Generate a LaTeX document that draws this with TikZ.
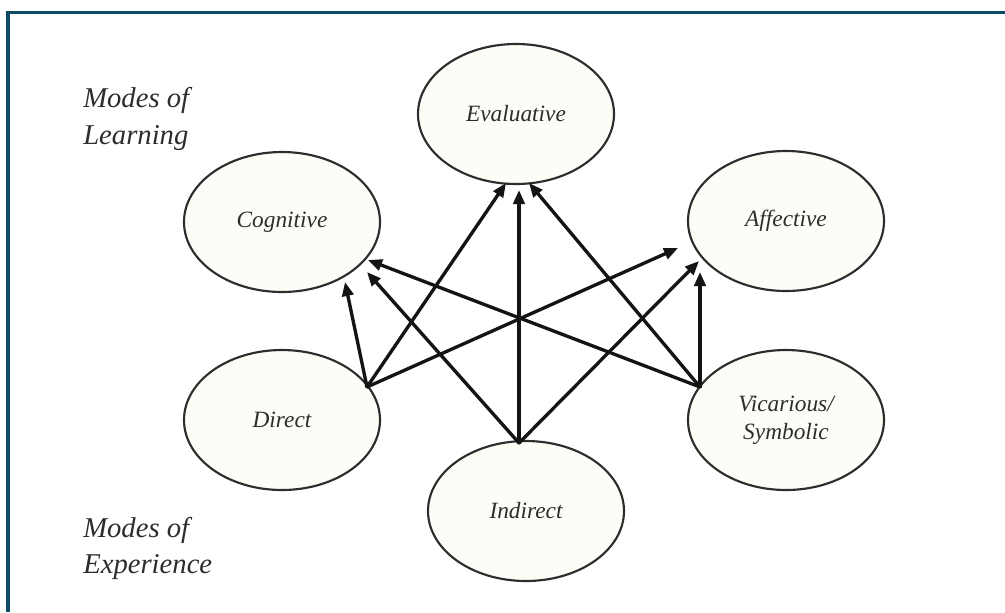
\documentclass[tikz,border=0pt]{standalone}
\usepackage{fontspec}
\setmainfont{Liberation Serif}
\usetikzlibrary{shapes.geometric,arrows.meta}
\definecolor{framecol}{RGB}{11,74,98}
\definecolor{ellfill}{RGB}{253,253,247}
\definecolor{txtcol}{RGB}{45,45,45}
\definecolor{arrcol}{RGB}{20,20,20}
\tikzset{
  mode/.style={ellipse, draw=txtcol, line width=1.6pt, fill=ellfill,
    minimum width=147pt, minimum height=105pt, inner sep=0pt,
    font=\fontsize{17.5}{21}\selectfont\itshape, text=txtcol, align=center},
  lbl/.style={anchor=base west, inner sep=0pt,
    font=\fontsize{21.5}{27}\selectfont\itshape, text=txtcol},
  link/.style={draw=arrcol, line width=2.5pt,
    -{Triangle[length=10.5pt,width=8.5pt]}, shorten <=-0.5pt},
}
\begin{document}
\begin{tikzpicture}[x=0.75pt,y=-0.75pt]
\useasboundingbox (0,0) rectangle (1005,612);
\fill[white] (0,0) rectangle (1005,612);
% frame (top and left edges only)
\draw[framecol, line width=2.6pt] (8,612) -- (8,12.5) -- (1005,12.5);

% learning modes
\node[mode] (E) at (516,114) {Evaluative};
\node[mode] (C) at (282,222) {Cognitive};
\node[mode] (A) at (786,221) {Affective};
% experience modes
\node[mode] (D) at (282,420) {Direct};
\node[mode] (I) at (526,511) {Indirect};
\node[mode] (V) at (786,420) {Vicarious/\\Symbolic};

% labels
\node[lbl] (ml1) at (83,107) {Modes of};
\node[lbl] (ml2) at (83,144) {Learning};
\node[lbl] (me1) at (83,537) {Modes of};
\node[lbl] (me2) at (83,573) {Experience};

% arrow start points on the experience ellipses
\coordinate (sD) at (367,387);
\coordinate (sI) at (519,443);
\coordinate (sV) at (700,387);
% arrow tips near the learning ellipses
\coordinate (tDC) at (345,282);
\coordinate (tIC) at (367,272);
\coordinate (tVC) at (368,260);
\coordinate (tDE) at (506,183);
\coordinate (tIE) at (519,190);
\coordinate (tVE) at (529,183);
\coordinate (tDA) at (678,248);
\coordinate (tIA) at (699,261);
\coordinate (tVA) at (700,272);

\draw[link] (sD) -- (tDC);
\draw[link] (sD) -- (tDE);
\draw[link] (sD) -- (tDA);
\draw[link] (sI) -- (tIC);
\draw[link] (sI) -- (tIE);
\draw[link] (sI) -- (tIA);
\draw[link] (sV) -- (tVC);
\draw[link] (sV) -- (tVE);
\draw[link] (sV) -- (tVA);
\end{tikzpicture}
\end{document}
